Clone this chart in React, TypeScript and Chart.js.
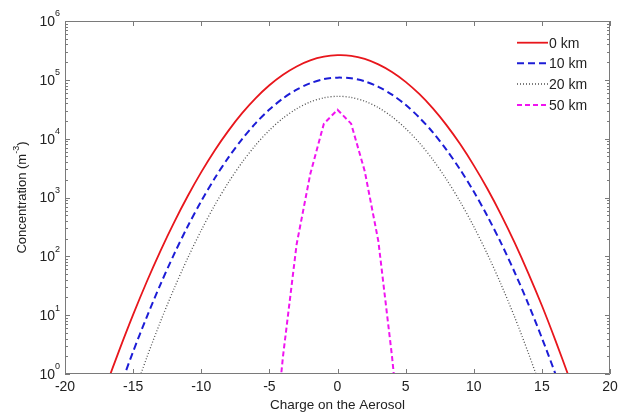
import React, { useEffect, useRef } from 'react';
import { Chart, registerables } from 'chart.js';

Chart.register(...registerables);

// Charge values (x) for each curve
const chargeRed = [-17, -16, -15, -14, -13, -12, -11, -10, -9, -8, -7, -6, -5, -4, -3, -2, -1, 0, 1, 2, 3, 4, 5, 6, 7, 8, 9, 10, 11, 12, 13, 14, 15, 16, 17];
const chargeBlue = [-17, -16, -15, -14, -13, -12, -11, -10, -9, -8, -7, -6, -5, -4, -3, -2, -1, 0, 1, 2, 3, 4, 5, 6, 7, 8, 9, 10, 11, 12, 13, 14, 15, 16, 17];
const chargeGray = [-15, -14, -13, -12, -11, -10, -9, -8, -7, -6, -5, -4, -3, -2, -1, 0, 1, 2, 3, 4, 5, 6, 7, 8, 9, 10, 11, 12, 13, 14, 15];
const chargeMagenta = [-5, -4, -3, -2, -1, 0, 1, 2, 3, 4, 5];

// Concentrations (m^-3)
const conc0km = [0.62, 2.6, 10.2, 37, 123, 375, 1050, 2700, 6370, 13700, 27100, 49000, 80900, 122000, 169000, 214000, 247000, 262000, 256000, 227000, 183000, 136000, 92500, 57500, 32700, 17000, 8090, 3520, 1410, 513, 171, 52, 14.6, 3.7, 0.87];
const conc10km = [0.1, 0.55, 2.4, 9.3, 33.1, 108, 321, 867, 2140, 4810, 9840, 18400, 31200, 48300, 68100, 87500, 103000, 109000, 106000, 94400, 76200, 56000, 37600, 22900, 12800, 6470, 2990, 1260, 483, 169, 53.7, 15.6, 4.1, 0.99, 0.2];
const conc20km = [0.42, 1.9, 7.7, 28.1, 93, 277, 747, 1810, 3960, 7820, 13900, 22300, 32200, 42100, 49500, 52500, 50200, 43300, 33700, 23600, 14900, 8530, 4390, 2030, 851, 321, 109, 33.5, 9.3, 2.3, 0.52];
const conc50km = [0.01, 2, 160, 2500, 18000, 31000, 18000, 2800, 180, 2, 0.01];

const seriesLabels = ['0 km', '10 km', '20 km', '50 km'];
const xTickValues = [-20, -15, -10, -5, 0, 5, 10, 15, 20];
const yExponents = [0, 1, 2, 3, 4, 5, 6];

const FONT = '"Liberation Sans", Arial, Helvetica, sans-serif';

const styles = [
  { color: '#e8161c', width: 1.8, dash: [] as number[] },
  { color: '#1c1cd6', width: 2, dash: [7, 4] },
  { color: '#505050', width: 1.3, dash: [1, 2] },
  { color: '#f014f0', width: 2, dash: [5, 3] },
];

export default function App() {
  const ref = useRef<HTMLCanvasElement>(null);

  useEffect(() => {
    document.body.style.margin = '0';
    const canvas = ref.current!;

    const framePlugin = {
      id: 'matlabFrame',
      afterDatasetsDraw(chart: any) {
        const { ctx, chartArea } = chart;
        const { left, right, top, bottom } = chartArea;
        const xs = chart.scales.x;
        const ys = chart.scales.y;
        ctx.save();
        ctx.strokeStyle = '#7a7a7a';
        ctx.lineWidth = 1;
        ctx.setLineDash([]);
        ctx.beginPath();
        ctx.rect(left + 0.5, top + 0.5, right - left - 1, bottom - top - 1);
        ctx.stroke();
        // x ticks
        ctx.beginPath();
        for (const v of xTickValues) {
          const px = Math.round(xs.getPixelForValue(v)) + 0.5;
          ctx.moveTo(px, bottom);
          ctx.lineTo(px, bottom - 5);
          ctx.moveTo(px, top);
          ctx.lineTo(px, top + 5);
        }
        // y ticks
        for (const e of yExponents) {
          for (let m = 1; m <= 9; m++) {
            if (e === 6 && m > 1) break;
            const v = m * Math.pow(10, e);
            const py = Math.round(ys.getPixelForValue(v)) + 0.5;
            const len = m === 1 ? 5 : 3;
            ctx.moveTo(left, py);
            ctx.lineTo(left + len, py);
            ctx.moveTo(right, py);
            ctx.lineTo(right - len, py);
          }
        }
        ctx.stroke();

        // y tick labels 10^n
        ctx.fillStyle = '#222';
        ctx.textBaseline = 'middle';
        for (const e of yExponents) {
          const py = ys.getPixelForValue(Math.pow(10, e));
          ctx.font = `9px ${FONT}`;
          const ew = ctx.measureText(String(e)).width;
          const ex = 60 - ew;
          ctx.textAlign = 'left';
          ctx.fillText(String(e), ex, py - 7);
          ctx.font = `14px ${FONT}`;
          ctx.textAlign = 'right';
          ctx.fillText('10', ex, py + 1);
        }

        // y title
        ctx.save();
        ctx.translate(22, (top + bottom) / 2);
        ctx.rotate(-Math.PI / 2);
        ctx.font = `13px ${FONT}`;
        const p1 = 'Concentration (m';
        const p3 = ')';
        const w1 = ctx.measureText(p1).width;
        const w3 = ctx.measureText(p3).width;
        ctx.font = `9px ${FONT}`;
        const sup = '-3';
        const w2 = ctx.measureText(sup).width;
        const total = w1 + w2 + w3;
        let cx = -total / 2;
        ctx.textAlign = 'left';
        ctx.textBaseline = 'middle';
        ctx.font = `13px ${FONT}`;
        ctx.fillText(p1, cx, 0);
        cx += w1;
        ctx.font = `9px ${FONT}`;
        ctx.fillText(sup, cx, -5);
        cx += w2;
        ctx.font = `13px ${FONT}`;
        ctx.fillText(p3, cx, 0);
        ctx.restore();

        // x title
        ctx.font = `13.5px ${FONT}`;
        ctx.textAlign = 'center';
        ctx.textBaseline = 'middle';
        ctx.fillText('Charge on the Aerosol', (left + right) / 2, 405);

        // legend
        const legY = [42.7, 63.3, 84, 105];
        seriesLabels.forEach((lab, i) => {
          const s = styles[i];
          ctx.strokeStyle = s.color;
          ctx.lineWidth = s.width;
          ctx.setLineDash(s.dash);
          ctx.beginPath();
          ctx.moveTo(517, legY[i]);
          ctx.lineTo(548, legY[i]);
          ctx.stroke();
          ctx.setLineDash([]);
          ctx.fillStyle = '#222';
          ctx.font = `14px ${FONT}`;
          ctx.textAlign = 'left';
          ctx.fillText(lab, 549, legY[i] + 1);
        });
        ctx.restore();
      },
    };

    const mk = (xs: number[], ys: number[], i: number, tension: number) => ({
      label: seriesLabels[i],
      data: xs.map((x, k) => ({ x, y: ys[k] })),
      borderColor: styles[i].color,
      borderWidth: styles[i].width,
      borderDash: styles[i].dash,
      pointRadius: 0,
      fill: false,
      tension,
    });

    const chart = new Chart(canvas, {
      type: 'line',
      data: {
        datasets: [
          mk(chargeRed, conc0km, 0, 0.3),
          mk(chargeBlue, conc10km, 1, 0.3),
          mk(chargeGray, conc20km, 2, 0.3),
          mk(chargeMagenta, conc50km, 3, 0),
        ],
      },
      options: {
        responsive: false,
        animation: false,
        layout: { padding: { top: 21, right: 18, left: 0, bottom: 0 } },
        plugins: {
          legend: { display: false },
          tooltip: { enabled: false },
        },
        scales: {
          x: {
            type: 'linear',
            min: -20,
            max: 20,
            grid: { display: false, drawTicks: false },
            border: { display: false },
            afterBuildTicks: (scale: any) => {
              scale.ticks = xTickValues.map((v) => ({ value: v }));
            },
            afterFit: (scale: any) => {
              scale.height = 43;
            },
            ticks: {
              color: '#222',
              font: { family: FONT, size: 14 },
              padding: 5,
              maxRotation: 0,
              autoSkip: false,
            },
          },
          y: {
            type: 'logarithmic',
            min: 1,
            max: 1e6,
            grid: { display: false },
            border: { display: false },
            ticks: { display: false },
            afterFit: (scale: any) => {
              scale.width = 65;
            },
          },
        },
      },
      plugins: [framePlugin],
    } as any);

    return () => chart.destroy();
  }, []);

  return (
    <div style={{ width: 628, height: 417 }}>
      <canvas ref={ref} width={628} height={417} style={{ display: 'block' }} />
    </div>
  );
}
